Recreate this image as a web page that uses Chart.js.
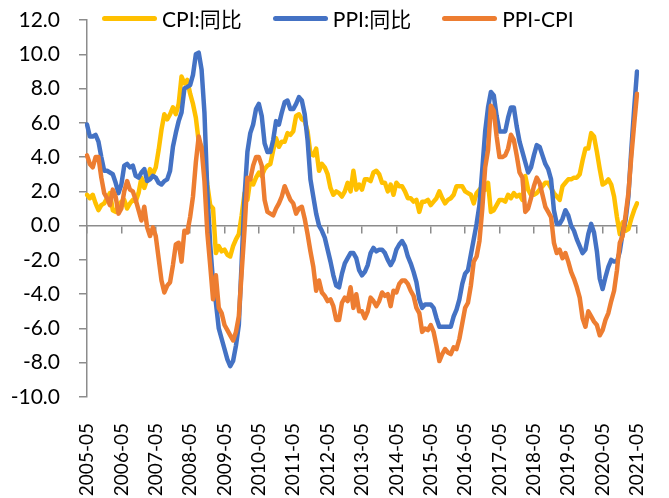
<!DOCTYPE html>
<html>
<head>
<meta charset="utf-8">
<script src="https://cdn.jsdelivr.net/npm/chart.js@4.4.0/dist/chart.umd.min.js"></script>
<style>
  body { margin: 0; background: #fff; }
  #wrap { position: relative; width: 669px; height: 498px; }
  #legend {
    position: absolute; left: 102px; top: 5px;
    display: flex; align-items: center; gap: 31px;
    font-family: Lato, "Noto Sans CJK SC", sans-serif; font-size: 21px; color: #000;
    line-height: 27px; white-space: nowrap;
  }
  #legend .item { display: flex; align-items: center; }
  #legend .swatch { width: 55px; height: 5px; border-radius: 3px; margin-right: 5px; }
</style>
</head>
<body>
<div id="wrap">
  <canvas id="chart" width="669" height="498"></canvas>
  <div id="legend"></div>
</div>
<script>
// 月份：2005-05 到 2021-05
var startYear = 2005, startMonth = 5, monthCount = 193;

var seriesNames = ['CPI:同比', 'PPI:同比', 'PPI-CPI'];
var seriesColors = ['#FFC000', '#4472C4', '#ED7D31'];

// CPI 同比 (%)
var cpi = [
  1.8, 1.6, 1.8, 1.3, 0.9, 1.2, 1.3, 1.6,
  1.9, 0.9, 0.8, 1.2, 1.4, 1.5, 1.0, 1.3, 1.5, 1.4, 1.9, 2.8,
  2.2, 2.7, 3.3, 3.0, 3.4, 4.4, 5.6, 6.5, 6.2, 6.5, 6.9, 6.5,
  7.1, 8.7, 8.3, 8.5, 7.7, 7.1, 6.3, 4.9, 4.6, 4.0, 2.4, 1.2,
  1.0, -1.6, -1.2, -1.5, -1.4, -1.7, -1.8, -1.2, -0.8, -0.5, 0.6, 1.9,
  1.5, 2.7, 2.4, 2.8, 3.1, 2.9, 3.3, 3.5, 3.6, 4.4, 5.1, 4.6,
  4.9, 4.9, 5.4, 5.3, 5.5, 6.4, 6.5, 6.2, 6.1, 5.5, 4.2, 4.1,
  4.5, 3.2, 3.6, 3.4, 3.0, 2.2, 1.8, 2.0, 1.9, 1.7, 2.0, 2.5,
  2.0, 3.2, 2.1, 2.4, 2.1, 2.7, 2.7, 2.6, 3.1, 3.2, 3.0, 2.5,
  2.5, 2.0, 2.4, 1.8, 2.5, 2.3, 2.3, 2.0, 1.6, 1.6, 1.4, 1.5,
  0.8, 1.4, 1.4, 1.5, 1.2, 1.4, 1.6, 2.0, 1.6, 1.3, 1.5, 1.6,
  1.8, 2.3, 2.3, 2.3, 2.0, 1.9, 1.8, 1.3, 1.9, 2.1, 2.3, 2.1,
  2.5, 0.8, 0.9, 1.2, 1.5, 1.5, 1.4, 1.8, 1.6, 1.9, 1.7, 1.8,
  1.5, 2.9, 2.1, 1.8, 1.8, 1.9, 2.1, 2.3, 2.5, 2.5, 2.2, 1.9,
  1.7, 1.5, 2.3, 2.5, 2.7, 2.7, 2.8, 2.8, 3.0, 3.8, 4.5, 4.5,
  5.4, 5.2, 4.3, 3.3, 2.4, 2.5, 2.7, 2.4, 1.7, 0.5, -0.5, 0.2,
  -0.3, -0.2, 0.4, 0.9, 1.3
];

// PPI 同比 (%)
var ppi = [
  5.9, 5.2, 5.2, 5.3, 4.9, 4.0, 3.2, 3.2,
  3.1, 3.0, 2.5, 1.9, 2.4, 3.5, 3.6, 3.4, 3.5, 2.9, 2.8, 3.1,
  3.3, 2.6, 2.7, 2.9, 2.8, 2.5, 2.4, 2.6, 2.7, 3.2, 4.6, 5.4,
  6.1, 6.6, 8.0, 8.1, 8.2, 8.8, 10.0, 10.1, 9.1, 6.6, 2.0, -1.1,
  -3.3, -4.5, -6.0, -6.6, -7.2, -7.8, -8.2, -7.9, -7.0, -5.8, -2.1, 1.7,
  4.3, 5.4, 5.9, 6.8, 7.1, 6.4, 4.8, 4.3, 4.3, 5.0, 6.1, 5.9,
  6.6, 7.2, 7.3, 6.8, 6.8, 7.1, 7.5, 7.3, 6.5, 5.0, 2.7, 1.7,
  0.7, 0.0, -0.3, -0.7, -1.4, -2.1, -2.9, -3.5, -3.6, -2.8, -2.2, -1.9,
  -1.6, -1.6, -1.9, -2.6, -2.9, -2.7, -2.3, -1.6, -1.3, -1.5, -1.4, -1.4,
  -1.6, -2.0, -2.3, -2.0, -1.4, -1.1, -0.9, -1.2, -1.8, -2.2, -2.7, -3.3,
  -4.3, -4.8, -4.6, -4.6, -4.6, -4.8, -5.4, -5.9, -5.9, -5.9, -5.9, -5.9,
  -5.3, -4.9, -4.3, -3.4, -2.8, -2.6, -1.7, -0.8, 0.1, 1.2, 3.3, 5.5,
  6.9, 7.8, 7.6, 6.4, 5.5, 5.5, 5.5, 6.3, 6.9, 6.9, 5.8, 4.9,
  4.3, 3.7, 3.1, 3.4, 4.1, 4.7, 4.6, 4.1, 3.6, 3.3, 2.7, 0.9,
  0.1, 0.1, 0.4, 0.9, 0.6, 0.0, -0.3, -0.8, -1.2, -1.6, -1.4, -0.5,
  0.1, -0.4, -1.5, -3.1, -3.7, -3.0, -2.4, -2.0, -2.1, -2.1, -1.5, -0.4,
  0.3, 1.7, 4.4, 6.8, 9.0
];

// PPI-CPI 剪刀差 (%)
var ppiMinusCpi = [
  4.1, 3.6, 3.4, 4.0, 4.0, 2.8, 1.9, 1.6,
  1.2, 2.1, 1.7, 0.7, 1.0, 2.0, 2.6, 2.1, 2.0, 1.5, 0.9, 0.3,
  1.1, -0.1, -0.6, -0.1, -0.6, -1.9, -3.2, -3.9, -3.5, -3.3, -2.3, -1.1,
  -1.0, -2.1, -0.3, -0.4, 0.5, 1.7, 3.7, 5.2, 4.5, 2.6, -0.4, -2.3,
  -4.3, -2.9, -4.8, -5.1, -5.8, -6.1, -6.4, -6.7, -6.2, -5.3, -2.7, -0.2,
  2.8, 2.7, 3.5, 4.0, 4.0, 3.5, 1.5, 0.8, 0.7, 0.6, 1.0, 1.3,
  1.7, 2.3, 1.9, 1.5, 1.3, 0.7, 1.0, 1.1, 0.4, -0.5, -1.5, -2.4,
  -3.8, -3.2, -3.9, -4.1, -4.4, -4.3, -4.7, -5.5, -5.5, -4.5, -4.2, -4.4,
  -3.6, -4.8, -4.0, -5.0, -5.0, -5.4, -5.0, -4.2, -4.4, -4.7, -4.4, -3.9,
  -4.1, -4.0, -4.7, -3.8, -3.9, -3.4, -3.2, -3.2, -3.4, -3.8, -4.1, -4.8,
  -5.1, -6.2, -6.0, -6.1, -5.8, -6.2, -7.0, -7.9, -7.5, -7.2, -7.4, -7.5,
  -7.1, -7.2, -6.6, -5.7, -4.8, -4.5, -3.5, -2.1, -1.8, -0.9, 1.0, 3.4,
  4.4, 7.0, 6.7, 5.2, 4.0, 4.0, 4.1, 4.5, 5.3, 5.0, 4.1, 3.1,
  2.8, 0.8, 1.0, 1.6, 2.3, 2.8, 2.5, 1.8, 1.1, 0.8, 0.5, -1.0,
  -1.6, -1.4, -1.9, -1.6, -2.1, -2.7, -3.1, -3.6, -4.2, -5.4, -5.9, -5.0,
  -5.3, -5.6, -5.8, -6.4, -6.1, -5.5, -5.1, -4.4, -3.8, -2.6, -1.0, -0.6,
  0.6, 1.9, 4.0, 5.9, 7.7
];

var yMin = -10, yMax = 12, yStep = 2;

var fontFamily = 'Lato, "Noto Sans CJK SC", sans-serif';
var axisGray = '#8c8c8c';

// 生成月份标签
var months = [];
for (var i = 0; i < monthCount; i++) {
  var m = startMonth - 1 + i;
  var y = startYear + Math.floor(m / 12);
  var mm = (m % 12) + 1;
  months.push(y + '-' + (mm < 10 ? '0' + mm : mm));
}

var seriesData = [cpi, ppi, ppiMinusCpi];
var drawOrder = [3, 2, 1]; // 橙线在最上层

var datasets = seriesNames.map(function(name, k) {
  return {
    label: name,
    data: seriesData[k],
    borderColor: seriesColors[k],
    backgroundColor: seriesColors[k],
    borderWidth: 4.5,
    borderJoinStyle: 'round',
    borderCapStyle: 'round',
    pointRadius: 0,
    tension: 0,
    fill: false,
    order: drawOrder[k],
    xAxisID: 'x',
    yAxisID: 'y'
  };
});

// 图例
var legendBox = document.getElementById('legend');
seriesNames.forEach(function(name, k) {
  var item = document.createElement('div');
  item.className = 'item';
  var sw = document.createElement('span');
  sw.className = 'swatch';
  sw.style.background = seriesColors[k];
  var txt = document.createElement('span');
  txt.textContent = name;
  item.appendChild(sw);
  item.appendChild(txt);
  legendBox.appendChild(item);
});

var context = document.getElementById('chart').getContext('2d');
var chart = new Chart(context, {
  type: 'line',
  data: { labels: months, datasets: datasets },
  options: {
    responsive: false,
    animation: false,
    layout: { padding: { top: 20, right: 32, left: 0, bottom: 0 } },
    plugins: { legend: { display: false }, tooltip: { enabled: false } },
    scales: {
      x: {
        type: 'category',
        position: 'bottom',
        grid: { display: false },
        border: { display: false },
        ticks: {
          autoSkip: false,
          minRotation: 90,
          maxRotation: 90,
          padding: 18,
          color: '#000',
          font: { family: fontFamily, size: 19 },
          callback: function(v, i) {
            return i % 12 === 0 ? this.getLabelForValue(v) : '';
          }
        },
        afterFit: function(s) {
          s.height = 101;
          s.paddingLeft = 0;
          s.paddingRight = 0;
        }
      },
      x0: {
        type: 'category',
        position: { y: 0 },
        grid: {
          drawOnChartArea: false,
          tickLength: 7,
          lineWidth: 1.5,
          color: function(c) { return c.index % 12 === 0 ? axisGray : 'rgba(0,0,0,0)'; }
        },
        border: { color: axisGray, width: 1.5 },
        ticks: { display: false, autoSkip: false },
        afterFit: function(s) {
          s.paddingLeft = 0;
          s.paddingRight = 0;
        }
      },
      y: {
        min: yMin,
        max: yMax,
        grid: { drawOnChartArea: false, tickLength: 8, color: axisGray, lineWidth: 1.5 },
        border: { color: axisGray, width: 1.5 },
        ticks: {
          stepSize: yStep,
          padding: 19,
          color: '#000',
          font: { family: fontFamily, size: 21 },
          callback: function(v) { return v.toFixed(1); }
        },
        afterFit: function(s) {
          s.width = 87;
          s.paddingTop = 0;
          s.paddingBottom = 0;
        }
      }
    }
  }
});
</script>
</body>
</html>
